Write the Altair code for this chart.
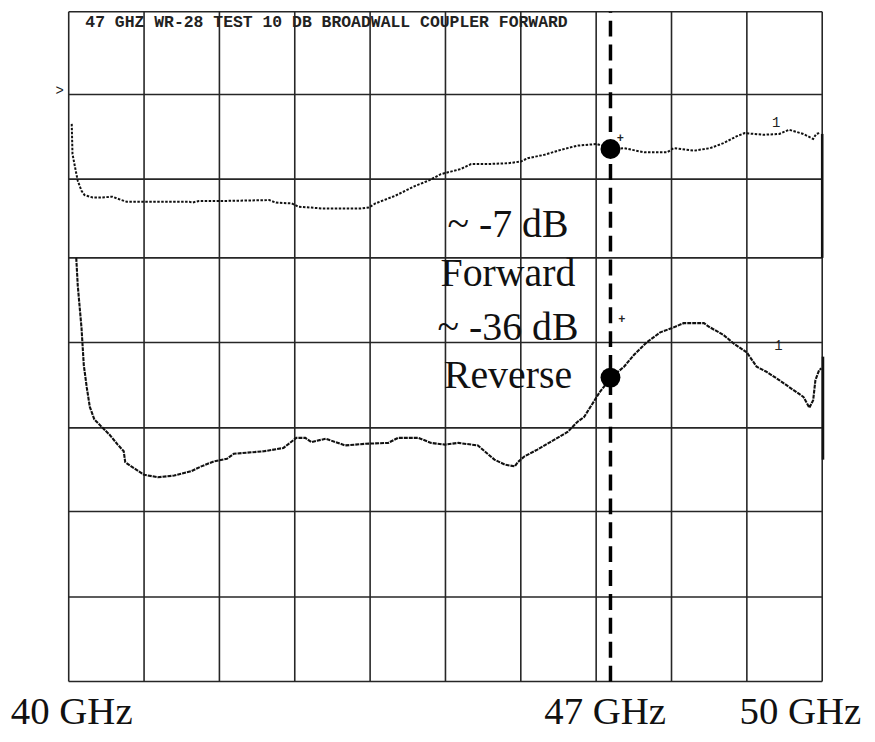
import altair as alt
import pandas as pd

# ---- data (x in GHz, y in screen grid divisions, 0 = bottom line) ----
fwd_ghz = [40.04, 40.05, 40.10, 40.12, 40.17, 40.21, 40.32, 40.41, 40.58, 40.70, 40.77, 41.20,
           41.60, 41.64, 41.73, 42.09, 42.66, 42.75, 42.96, 43.05, 43.22, 43.36, 43.58, 43.88,
           43.98, 44.07, 44.33, 44.60, 44.77, 44.94, 45.07, 45.20, 45.34, 45.56, 45.83, 46.00,
           46.09, 46.31, 46.53, 46.75, 47.01, 47.20, 47.37, 47.64, 47.94, 48.03, 48.30, 48.51,
           48.69, 48.86, 48.97, 49.22, 49.43, 49.56, 49.75, 49.88, 49.92, 49.96]
fwd_div = [6.66, 6.30, 6.07, 5.98, 5.86, 5.81, 5.78, 5.78, 5.79, 5.75, 5.73, 5.73,
           5.73, 5.72, 5.74, 5.74, 5.75, 5.72, 5.71, 5.67, 5.66, 5.65, 5.65, 5.65,
           5.66, 5.71, 5.80, 5.92, 5.98, 6.06, 6.09, 6.12, 6.18, 6.18, 6.19, 6.21,
           6.25, 6.29, 6.35, 6.40, 6.42, 6.36, 6.37, 6.32, 6.32, 6.37, 6.34, 6.37,
           6.43, 6.51, 6.55, 6.53, 6.54, 6.59, 6.54, 6.48, 6.54, 6.55]

rev_ghz = [40.10, 40.12, 40.17, 40.20, 40.24, 40.28, 40.34, 40.45, 40.54, 40.65, 40.73, 40.75,
           40.83, 41.00, 41.18, 41.40, 41.62, 41.76, 41.93, 42.10, 42.19, 42.59, 42.85, 43.02,
           43.14, 43.22, 43.41, 43.67, 43.94, 44.24, 44.37, 44.64, 44.81, 44.99, 45.17, 45.43,
           45.52, 45.65, 45.79, 45.92, 45.96, 46.05, 46.22, 46.39, 46.62, 46.75, 46.84, 47.05,
           47.20, 47.37, 47.50, 47.67, 47.85, 48.03, 48.16, 48.43, 48.51, 48.69, 48.82, 49.00,
           49.13, 49.26, 49.43, 49.62, 49.75, 49.83, 49.88, 49.91, 49.96, 49.99]
rev_div = [5.06, 4.73, 4.22, 3.78, 3.51, 3.28, 3.13, 3.03, 2.95, 2.83, 2.75, 2.62,
           2.57, 2.47, 2.44, 2.46, 2.51, 2.57, 2.63, 2.66, 2.72, 2.75, 2.79, 2.91,
           2.91, 2.86, 2.90, 2.82, 2.84, 2.85, 2.91, 2.91, 2.85, 2.83, 2.85, 2.82,
           2.75, 2.65, 2.59, 2.57, 2.62, 2.69, 2.77, 2.86, 2.98, 3.10, 3.16, 3.46,
           3.63, 3.76, 3.90, 4.05, 4.17, 4.23, 4.28, 4.28, 4.23, 4.14, 4.04, 3.93,
           3.76, 3.70, 3.60, 3.48, 3.40, 3.27, 3.36, 3.60, 3.72, 3.74]

grid_x = [40, 41, 42, 43, 44, 45, 46, 47, 48, 49, 50]
grid_y = [0, 1.01, 2.03, 3.03, 4.05, 5.06, 6.00, 7.01, 8.00]

marker_ghz = 47.19
marker_div = [6.36, 3.63]

title_text = "47 GHZ WR-28 TEST 10 DB BROADWALL COUPLER FORWARD"
note_text = ["~ -7 dB", "Forward", "~ -36 dB", "Reverse"]
note_div = [5.31, 4.72, 4.08, 3.51]
note_ghz = 45.83

freq_text = ["40 GHz", "47 GHz", "50 GHz"]
freq_ghz = [40.04, 47.12, 49.71]
freq_div = -0.51

small_text = [">", "1", "1"]
small_ghz = [39.88, 49.39, 49.42]
small_div = [7.01, 6.62, 3.96]
plus_ghz = [47.32, 47.34]
plus_div = [6.49, 4.33]

# ---- tables ----
xs = alt.Scale(domain=[40, 50], nice=False, zero=False)
ys = alt.Scale(domain=[0, 8], nice=False, zero=False)

fwd = pd.DataFrame({"f": fwd_ghz, "d": fwd_div, "i": range(len(fwd_ghz))})
rev = pd.DataFrame({"f": rev_ghz, "d": rev_div, "i": range(len(rev_ghz))})
vgrid = pd.DataFrame({"f": grid_x, "d0": [0] * len(grid_x), "d1": [8] * len(grid_x)})
hgrid = pd.DataFrame({"d": grid_y, "f0": [40] * len(grid_y), "f1": [50] * len(grid_y)})
mline = pd.DataFrame({"f": [marker_ghz], "d0": [0], "d1": [8]})
mpts = pd.DataFrame({"f": [marker_ghz] * 2, "d": marker_div})
notes = pd.DataFrame({"t": note_text, "d": note_div, "f": [note_ghz] * 4})
freqs = pd.DataFrame({"t": freq_text, "f": freq_ghz, "d": [freq_div] * 3})
title = pd.DataFrame({"t": [title_text], "f": [40.22], "d": [7.82]})
small = pd.DataFrame({"t": small_text, "f": small_ghz, "d": small_div})
plus = pd.DataFrame({"t": ["+", "+"], "f": plus_ghz, "d": plus_div})
edge = pd.DataFrame({"f": [50.0, 50.01], "d0": [5.06, 2.65], "d1": [6.54, 3.88]})

X = lambda f="f": alt.X(f"{f}:Q", scale=xs, axis=None)
Y = lambda f="d": alt.Y(f"{f}:Q", scale=ys, axis=None)

grid_v = alt.Chart(vgrid).mark_rule(color="#262626", strokeWidth=1.6).encode(
    x=X(), y=Y("d0"), y2="d1")
grid_h = alt.Chart(hgrid).mark_rule(color="#262626", strokeWidth=1.6).encode(
    y=Y(), x=X("f0"), x2="f1")
edges = alt.Chart(edge).mark_rule(color="#111111", strokeWidth=2.6).encode(
    x=X(), y=Y("d0"), y2="d1")

fwd_line = alt.Chart(fwd).mark_line(color="#111111", strokeWidth=2.0, strokeDash=[2.5, 1.5]).encode(
    x=X(), y=Y(), order="i:Q")
rev_line = alt.Chart(rev).mark_line(color="#111111", strokeWidth=2.1, strokeDash=[4, 1]).encode(
    x=X(), y=Y(), order="i:Q")

dash = alt.Chart(mline).mark_rule(color="black", strokeWidth=3.5, strokeDash=[16, 8]).encode(
    x=X(), y=Y("d0"), y2="d1")
dots = alt.Chart(mpts).mark_circle(color="black", opacity=1, size=400).encode(x=X(), y=Y())

note_marks = alt.Chart(notes).mark_text(
    font="Liberation Serif", fontSize=40, align="center", baseline="alphabetic", color="#111111"
).encode(x=X(), y=Y(), text="t:N")
freq_marks = alt.Chart(freqs).mark_text(
    font="Liberation Serif", fontSize=39, align="center", baseline="alphabetic", color="#111111"
).encode(x=X(), y=Y(), text="t:N")
title_mark = alt.Chart(title).mark_text(
    font="Liberation Mono", fontSize=16.5, fontWeight="bold", align="left", baseline="alphabetic",
    color="#222222"
).encode(x=X(), y=Y(), text="t:N")
small_marks = alt.Chart(small).mark_text(
    font="Liberation Mono", fontSize=14, align="center", baseline="alphabetic", color="#222222"
).encode(x=X(), y=Y(), text="t:N")
plus_marks = alt.Chart(plus).mark_text(
    font="Liberation Mono", fontSize=12, fontWeight="bold", align="center", baseline="middle",
    color="#222222"
).encode(x=X(), y=Y(), text="t:N")

chart = alt.layer(
    grid_v, grid_h, edges, fwd_line, rev_line, dash, dots,
    note_marks, freq_marks, title_mark, small_marks, plus_marks
).properties(
    width=757, height=673,
    autosize=alt.AutoSizeParams(type="none"),
    padding={"left": 61, "top": 2, "right": 45, "bottom": 51},
    background="white",
).configure_view(stroke=None)

chart.save("out.html", embed_options={"renderer": "svg", "actions": False})
